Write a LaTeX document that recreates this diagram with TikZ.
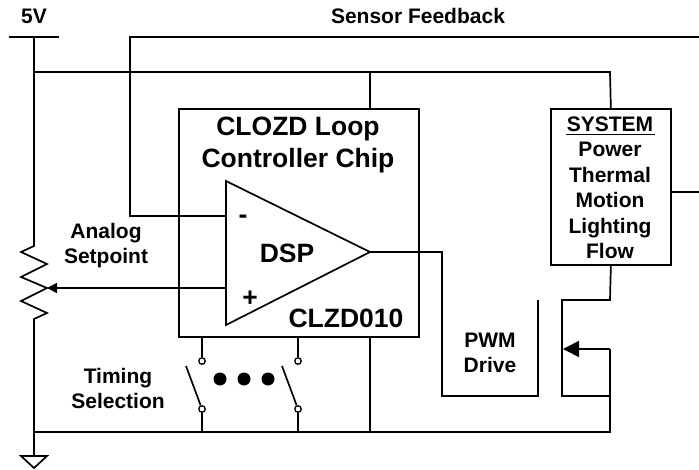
\documentclass[tikz,border=0pt]{standalone}
\usepackage{fontspec}
\setmainfont{Liberation Sans}
\usetikzlibrary{arrows.meta}
\tikzset{
  wire/.style={line width=1.7pt,line join=miter},
  boxnode/.style={draw,line width=1.7pt,inner sep=0pt,anchor=north west},
  tinylabel/.style={inner sep=0pt,anchor=base,font=\bfseries\fontsize{21}{21}\selectfont},
  smalllabel/.style={inner sep=0pt,anchor=base,font=\bfseries\fontsize{21}{21}\selectfont},
  biglabel/.style={inner sep=0pt,anchor=base,font=\bfseries\fontsize{26.5}{26.5}\selectfont},
  contact/.style={circle,draw,line width=1.3pt,fill=white,minimum size=6.5pt,inner sep=0pt},
  bigdot/.style={circle,fill=black,minimum size=13pt,inner sep=0pt},
  headtip/.style={-{Triangle[length=#1,width=#1]}},
}
\begin{document}
\begin{tikzpicture}[x=1pt,y=-1pt]
\useasboundingbox (0,0) rectangle (699,469);
\node[boxnode,minimum width=240pt,minimum height=228pt] (chip) at (178,108) {};
\node[boxnode,minimum width=120pt,minimum height=156pt] (system) at (550,108) {};
\coordinate (railtop) at (34,37);
\coordinate (railmid) at (34,72);
\coordinate (railbot) at (34,432);
\coordinate (gnd) at (34,456);
\coordinate (wiper) at (47,288);
\coordinate (triA) at (226,181);
\coordinate (triB) at (226,325);
\coordinate (triC) at (370,252);
\coordinate (minus) at (226,216);
\coordinate (plus) at (226,288);
\coordinate (gate) at (538,300);
\coordinate (drain) at (562,300);
\coordinate (source) at (562,396);
\coordinate (body) at (563,349);
\draw[wire] (9,37)--(59,37);
\draw[wire] (railtop)--(34,246)--(21,252)--(47,264)--(21,277)--(47,288)--(21,301)--(47,313)--(34,319)--(gnd);
\draw[wire] (21,456)--(47,456)--(34,468)--cycle;
\draw[wire] (railmid)--(610,72)--(system.north);
\draw[wire] (370,72)--(chip.north -| 370,0);
\draw[wire] (699,37)--(130,37)--(130,216)--(minus);
\draw[wire] (system.east |- 0,192)--(699,192);
\draw[wire] (triA)--(triB)--(triC)--cycle;
\draw[wire,headtip=10pt] (plus)--(wiper);
\draw[wire] (triC)--(442,252)--(442,396)--(538,396)--(gate);
\draw[wire] (system.south)--(610,300)--(drain)--(source)--(610,396);
\draw[wire,headtip=16pt] (610,349)--(610,349 -| body);
\draw[wire] (railbot)--(610,432)--(610,349);
\draw[wire] (chip.south -| 370,0)--(370,432);
\node[contact] (swAtop) at (202,361) {};
\node[contact] (swAbot) at (202,409) {};
\node[contact] (swBtop) at (298,361) {};
\node[contact] (swBbot) at (298,409) {};
\draw[wire] (202,336)--(swAtop);
\draw[wire] (298,336)--(swBtop);
\draw[wire] (swAbot)--(202,432);
\draw[wire] (swBbot)--(298,432);
\draw[wire] (186,366)--(swAbot);
\draw[wire] (282,366)--(swBbot);
\node[bigdot] (dotA) at (220,379) {};
\node[bigdot] (dotB) at (244,379) {};
\node[bigdot] (dotC) at (268,379) {};
\node[tinylabel] (vlabel) at (34,23) {5V};
\node[tinylabel] (fblabel) at (418,23) {Sensor Feedback};
\node[biglabel] (chipone) at (298,135) {CLOZD Loop};
\node[biglabel] (chiptwo) at (298,167) {Controller Chip};
\node[biglabel] (dsplabel) at (287,262) {DSP};
\node[biglabel] (partlabel) at (346,327) {CLZD010};
\node[biglabel] (minuslabel) at (243,223) {-};
\node[biglabel] (pluslabel) at (250,306) {+};
\node[smalllabel] (analogone) at (106,238) {Analog};
\node[smalllabel] (analogtwo) at (106,263.5) {Setpoint};
\node[smalllabel] (timingone) at (118,383) {Timing};
\node[smalllabel] (timingtwo) at (118,408) {Selection};
\node[smalllabel] (pwmone) at (490,347) {PWM};
\node[smalllabel] (pwmtwo) at (490,372) {Drive};
\node[smalllabel] (sysa) at (610,131) {SYSTEM};
\draw[line width=1.8pt] (566,134.5)--(655,134.5);
\node[smalllabel] (sysb) at (610,156.5) {Power};
\node[smalllabel] (sysc) at (610,182) {Thermal};
\node[smalllabel] (sysd) at (610,207.5) {Motion};
\node[smalllabel] (syse) at (610,233) {Lighting};
\node[smalllabel] (sysf) at (610,258.5) {Flow};
\end{tikzpicture}
\end{document}
